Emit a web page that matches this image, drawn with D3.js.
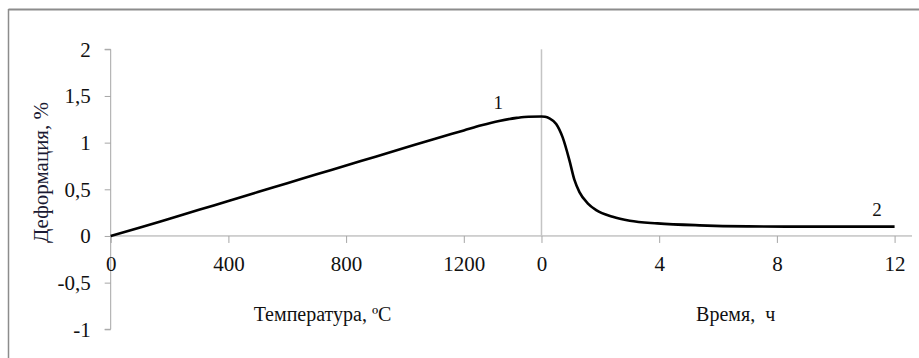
<!DOCTYPE html>
<html><head><meta charset="utf-8">
<script src="https://cdn.jsdelivr.net/npm/d3@7"></script>
<style>
html,body{margin:0;padding:0;background:#fff;}
svg{display:block;}
svg text{font-family:"Liberation Serif",Tinos,"Times New Roman","Nimbus Roman","DejaVu Serif",serif !important;}
</style></head>
<body>
<svg id="chart" width="919" height="358"></svg>
<script>
// ---- data ----
const tempTicks = [0, 400, 800, 1200];
const timeTicks = [0, 4, 8, 12];
const yTicks = [-1, -0.5, 0, 0.5, 1, 1.5, 2];
const tempMax = 1464; // heating end where time axis starts
const heatT = [0, 100, 200, 300, 400, 500, 600, 700, 800, 900, 1000, 1100, 1200, 1260, 1320, 1380, 1420, 1464];
const heatDef = [0, 0.09, 0.185, 0.28, 0.375, 0.47, 0.565, 0.66, 0.755, 0.85, 0.945, 1.04, 1.13, 1.185, 1.232, 1.265, 1.278, 1.28];
const holdT = [0, 0.12, 0.27, 0.5, 0.72, 0.95, 1.12, 1.29, 1.57, 1.86, 2.42, 3.0, 3.94, 5.37, 7.0, 9.0, 12];
const holdDef = [1.28, 1.277, 1.26, 1.2, 1.056, 0.81, 0.6, 0.47, 0.35, 0.277, 0.205, 0.163, 0.135, 0.114, 0.103, 0.1, 0.1];
const yTitle = "Деформация, %";
const tempTitle = "Температура, ºC";
const timeTitle = "Время,  ч";

// ---- layout ----
const svg = d3.select("#chart");
const left = 110.7, step = 117.7;
const y = d3.scaleLinear().domain([-1, 2]).range([329.3, 49.3]);
const xT = d3.scaleLinear().domain([0, 1200]).range([left, left + 3 * step]);
const x0time = xT(tempMax);
const xH = d3.scaleLinear().domain([0, 12]).range([x0time, x0time + 3 * step]);
const fmt = d => String(d).replace(".", ",");
const axisColor = "#a6a6a6";
const serif = '"Liberation Serif", Tinos, "Times New Roman", serif';

// frame border
svg.append("line").attr("x1", 8.5).attr("x2", 919).attr("y1", 9.5).attr("y2", 9.5)
  .attr("stroke", "#8c8c8c").attr("stroke-width", 2);
svg.append("line").attr("x1", 8.5).attr("x2", 8.5).attr("y1", 9).attr("y2", 358)
  .attr("stroke", "#8c8c8c").attr("stroke-width", 1.5);

// y axis
const yAx = svg.append("g").attr("transform", `translate(${left},0)`)
  .call(d3.axisLeft(y).tickValues(yTicks).tickSize(6).tickPadding(14).tickFormat(fmt));
yAx.attr("font-family", serif);
yAx.select(".domain").attr("stroke", axisColor).attr("d", `M-6,${y(2)}H0V${y(-1)}H-6`);
yAx.selectAll(".tick line").attr("stroke", axisColor);
yAx.selectAll(".tick text").attr("font-size", 21).attr("fill", "#111");

// x axis line
svg.append("line").attr("x1", left).attr("x2", 912).attr("y1", y(0)).attr("y2", y(0))
  .attr("stroke", axisColor).attr("stroke-width", 1);

const xTa = svg.append("g").attr("transform", `translate(0,${y(0)})`)
  .call(d3.axisBottom(xT).tickValues(tempTicks).tickSize(7).tickPadding(13).tickFormat(d => String(d)));
const xHa = svg.append("g").attr("transform", `translate(0,${y(0)})`)
  .call(d3.axisBottom(xH).tickValues(timeTicks).tickSize(7).tickPadding(13).tickFormat(d => String(d)));
[xTa, xHa].forEach(g => {
  g.attr("font-family", serif);
  g.select(".domain").remove();
  g.selectAll(".tick line").attr("stroke", axisColor);
  g.selectAll(".tick text").attr("font-size", 21).attr("fill", "#111");
});

// vertical divider at time 0
svg.append("line").attr("x1", xH(0)).attr("x2", xH(0)).attr("y1", y(2)).attr("y2", y(0))
  .attr("stroke", "#c4c4c4").attr("stroke-width", 1.5);

// curves
const line = d3.line().curve(d3.curveMonotoneX);
const pts = heatT.map((t, i) => [xT(t), y(heatDef[i])])
  .concat(holdT.slice(1).map((t, i) => [xH(t), y(holdDef[i + 1])]));
svg.append("path").attr("d", line(pts)).attr("fill", "none")
  .attr("stroke", "#000").attr("stroke-width", 2.6).attr("stroke-linejoin", "round");

// curve labels
svg.append("text").attr("x", xT(1317)).attr("y", y(1.36)).attr("text-anchor", "middle")
  .attr("font-size", 19).attr("fill", "#111").text("1");
svg.append("text").attr("x", xH(11.4)).attr("y", y(0.21)).attr("text-anchor", "middle")
  .attr("font-size", 19).attr("fill", "#111").text("2");

// axis titles
svg.append("text").attr("transform", `translate(48,${y(0.68)}) rotate(-90)`)
  .attr("text-anchor", "middle").attr("font-size", 21).attr("fill", "#1a1a33").text(yTitle);
svg.append("text").attr("x", xT(720)).attr("y", 321).attr("text-anchor", "middle")
  .attr("font-size", 20).attr("fill", "#111").text(tempTitle);
svg.append("text").attr("x", xH(6.6)).attr("y", 321).attr("text-anchor", "middle")
  .style("white-space", "pre").attr("xml:space", "preserve")
  .attr("font-size", 20).attr("fill", "#111").text(timeTitle);
</script>
</body></html>
